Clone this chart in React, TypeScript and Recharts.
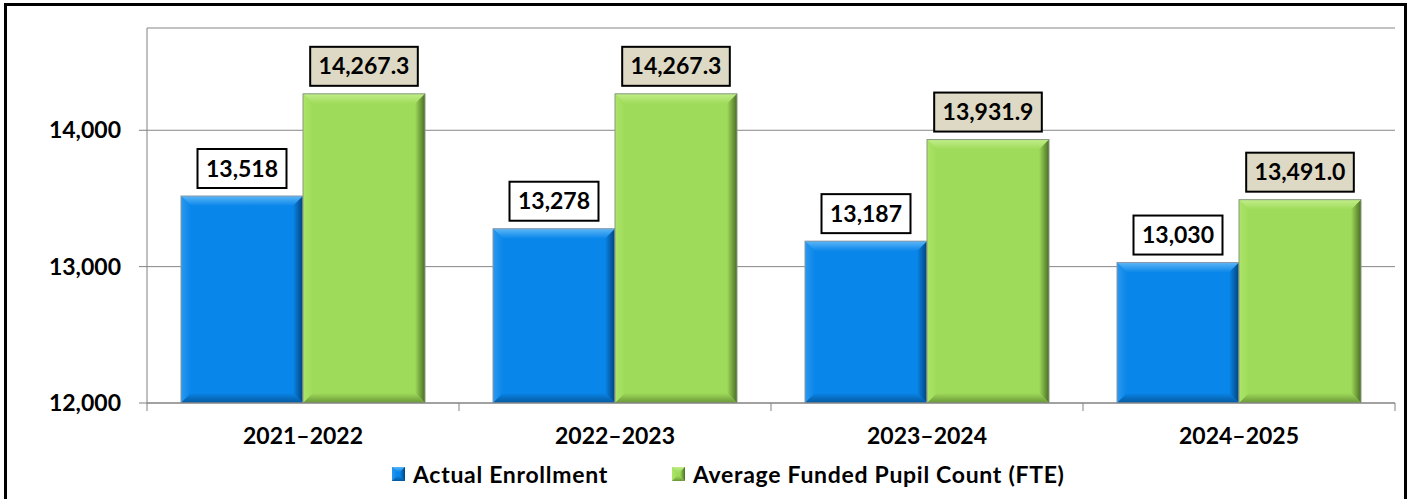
import React from 'react';
import { BarChart, Bar, XAxis, YAxis, CartesianGrid, LabelList, Legend } from 'recharts';

const categories = ['2021–2022', '2022–2023', '2023–2024', '2024–2025'];
const actualEnrollment = [13518, 13278, 13187, 13030];
const fundedPupilCount = [14267.3, 14267.3, 13931.9, 13491.0];
const yTicks = [12000, 13000, 14000];
const yDomain = [12000, 14750];
const seriesNames = ['Actual Enrollment', 'Average Funded Pupil Count (FTE)'];

const data = categories.map((c, i) => ({
  category: c,
  actual: actualEnrollment[i],
  funded: fundedPupilCount[i],
}));

const FONT = 'Lato, "Open Sans", sans-serif';

type Pal = { id: string; main: string; light: string; lightL: string; dark: string; darkB: string; edge: string };
const BLUE: Pal = { id: 'bl', main: '#0986ea', light: '#5cb6f6', lightL: '#2a98ef', dark: '#03437a', darkB: '#05589c', edge: '#8a9aa8' };
const GREEN: Pal = { id: 'gr', main: '#9fdb5a', light: '#c2ee8a', lightL: '#ace568', dark: '#4a6d25', darkB: '#6a9639', edge: '#8a9a80' };

function Bevel({ x, y, width, height, pal, b0 = 10, small = false }: any) {
  if (!width || !height || height <= 0) return null;
  const b = Math.min(b0, width / 2, height / 2);
  const x2 = x + width;
  const y2 = y + height;
  const id = pal.id + (small ? 's' : '');
  return (
    <g>
      <defs>
        <linearGradient id={`${id}-t`} x1="0" y1="0" x2="0" y2="1">
          <stop offset="0" stopColor={pal.light} />
          <stop offset="1" stopColor={pal.main} />
        </linearGradient>
        <linearGradient id={`${id}-l`} x1="0" y1="0" x2="1" y2="0">
          <stop offset="0" stopColor={pal.lightL} />
          <stop offset="1" stopColor={pal.main} />
        </linearGradient>
        <linearGradient id={`${id}-r`} x1="0" y1="0" x2="1" y2="0">
          <stop offset="0" stopColor={pal.main} />
          <stop offset="1" stopColor={pal.dark} />
        </linearGradient>
        <linearGradient id={`${id}-b`} x1="0" y1="0" x2="0" y2="1">
          <stop offset="0" stopColor={pal.main} />
          <stop offset="1" stopColor={pal.darkB} />
        </linearGradient>
      </defs>
      <rect x={x} y={y} width={width} height={height} fill={pal.main} />
      <polygon points={`${x},${y} ${x2},${y} ${x2 - b},${y + b} ${x + b},${y + b}`} fill={`url(#${id}-t)`} />
      <polygon points={`${x},${y} ${x + b},${y + b} ${x + b},${y2 - b} ${x},${y2}`} fill={`url(#${id}-l)`} />
      <polygon points={`${x2},${y} ${x2},${y2} ${x2 - b},${y2 - b} ${x2 - b},${y + b}`} fill={`url(#${id}-r)`} />
      <polygon points={`${x},${y2} ${x2},${y2} ${x2 - b},${y2 - b} ${x + b},${y2 - b}`} fill={`url(#${id}-b)`} />
      {!small && <rect x={x} y={y} width={width} height={height} fill="none" stroke={pal.edge} strokeWidth={1} />}
    </g>
  );
}

const fmtActual = (v: number) => v.toLocaleString('en-US');
const fmtFunded = (v: number) => v.toLocaleString('en-US', { minimumFractionDigits: 1, maximumFractionDigits: 1 });

function estWidth(s: string, size: number) {
  let w = 0;
  for (const ch of s) w += ch === ',' || ch === '.' ? 0.23 : 0.58;
  return w * size;
}

const makeLabel = (boxFill: string, fmt: (v: number) => string) => (props: any) => {
  const { x, y, width, value } = props;
  const text = fmt(Number(value));
  const w = estWidth(text, 23) + 17;
  const h = 39;
  const cx = x + width / 2;
  const by = y - 8 - h;
  return (
    <g>
      <rect x={cx - w / 2} y={by} width={w} height={h} fill={boxFill} stroke="#000" strokeWidth={2} />
      <text x={cx} y={by + h / 2 + 8} textAnchor="middle" fontFamily={FONT} fontWeight={700} fontSize={23} fill="#000">
        {text}
      </text>
    </g>
  );
};

const XTick = (props: any) => {
  const { x, y, payload, index, visibleTicksCount } = props;
  const off = payload.offset || 0;
  const isLast = index === (visibleTicksCount ?? categories.length) - 1;
  return (
    <g>
      <line x1={x - off} x2={x - off} y1={y} y2={y + 8} stroke="#808080" strokeWidth={1} />
      {isLast && <line x1={x + off} x2={x + off} y1={y} y2={y + 8} stroke="#808080" strokeWidth={1} />}
      <text x={x} y={y + 41} textAnchor="middle" fontFamily={FONT} fontWeight={700} fontSize={23} fill="#000">
        {payload.value}
      </text>
    </g>
  );
};

const renderLegend = () => (
  <div style={{ display: 'flex', alignItems: 'center', fontFamily: FONT, fontWeight: 700, fontSize: 23, letterSpacing: 0.7, color: '#000', whiteSpace: 'nowrap', lineHeight: '28px' }}>
    {seriesNames.map((n, i) => (
      <div key={n} style={{ display: 'flex', alignItems: 'center', marginRight: i === 0 ? 64 : 0 }}>
        <svg width={13} height={14} style={{ display: 'block' }}>
          <Bevel x={0} y={0} width={13} height={14} pal={i === 0 ? BLUE : GREEN} b0={5} small />
        </svg>
        <span style={{ marginLeft: 8 }}>{n}</span>
      </div>
    ))}
  </div>
);

export default function App() {
  return (
    <div style={{ position: 'absolute', left: 0, top: 0, width: 1412, height: 499, overflow: 'hidden', background: '#fff' }}>
      <div
        style={{
          position: 'absolute',
          left: 4,
          top: 3,
          width: 1403,
          height: 540,
          border: '3px solid #000',
          boxSizing: 'border-box',
        }}
      />
      <div style={{ position: 'absolute', left: 0, top: 0 }}>
        <BarChart
          width={1412}
          height={499}
          data={data}
          margin={{ top: 28, right: 17, left: 0, bottom: 0 }}
          barSize={122}
          barGap={0}
        >
          <CartesianGrid vertical={false} stroke="#868686" strokeWidth={1} />
          <XAxis
            dataKey="category"
            height={96}
            axisLine={{ stroke: '#808080', strokeWidth: 1 }}
            tickLine={false}
            tickSize={0}
            tickMargin={0}
            interval={0}
            tick={<XTick />}
          />
          <YAxis
            width={147}
            domain={yDomain}
            ticks={yTicks}
            allowDataOverflow
            axisLine={{ stroke: '#808080', strokeWidth: 1 }}
            tickLine={{ stroke: '#808080', strokeWidth: 1 }}
            tickSize={8}
            tickMargin={18}
            tickFormatter={(v: number) => v.toLocaleString('en-US')}
            tick={{ fontFamily: FONT, fontWeight: 700, fontSize: 23, fill: '#000' }}
          />
          <Legend
            layout="horizontal"
            verticalAlign="middle"
            align="center"
            content={renderLegend}
            wrapperStyle={{ top: 460, left: 392, width: 'auto', height: 'auto' }}
          />
          <Bar dataKey="actual" name={seriesNames[0]} isAnimationActive={false} shape={(p: any) => <Bevel {...p} pal={BLUE} />}>
            <LabelList dataKey="actual" content={makeLabel('#ffffff', fmtActual)} />
          </Bar>
          <Bar dataKey="funded" name={seriesNames[1]} isAnimationActive={false} shape={(p: any) => <Bevel {...p} pal={GREEN} />}>
            <LabelList dataKey="funded" content={makeLabel('#ddd9c4', fmtFunded)} />
          </Bar>
        </BarChart>
      </div>
    </div>
  );
}
